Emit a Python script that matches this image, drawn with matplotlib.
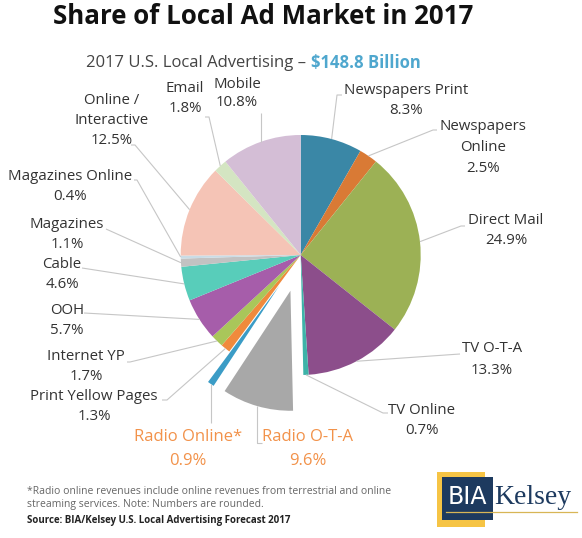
import numpy as np
import matplotlib
matplotlib.use("Agg")
import matplotlib.pyplot as plt
from matplotlib.patches import Rectangle

# ---------------- data ----------------
categories = ["Newspapers Print", "Newspapers Online", "Direct Mail", "TV O-T-A",
              "TV Online", "Radio O-T-A", "Radio Online*", "Print Yellow Pages",
              "Internet YP", "OOH", "Cable", "Magazines", "Magazines Online",
              "Online / Interactive", "Email", "Mobile"]
shares = [8.3, 2.5, 24.9, 13.3, 0.7, 9.6, 0.9, 1.3, 1.7, 5.7, 4.6, 1.1, 0.4, 12.5, 1.8, 10.8]
pct_labels = ["8.3%", "2.5%", "24.9%", "13.3%", "0.7%", "9.6%", "0.9%", "1.3%",
              "1.7%", "5.7%", "4.6%", "1.1%", "0.4%", "12.5%", "1.8%", "10.8%"]
name_lines = [["Newspapers Print"], ["Newspapers", "Online"], ["Direct Mail"], ["TV O-T-A"],
              ["TV Online"], ["Radio O-T-A"], ["Radio Online*"], ["Print Yellow Pages"],
              ["Internet YP"], ["OOH"], ["Cable"], ["Magazines"], ["Magazines Online"],
              ["Online /", "Interactive"], ["Email"], ["Mobile"]]
exploded = ["Radio O-T-A", "Radio Online*"]
highlight = ["Radio O-T-A", "Radio Online*"]

colors = ["#3A87A6", "#D97A35", "#9CB155", "#8C4E8B", "#3DB3A8", "#A8A8A8", "#3B9CC6",
          "#F08A3C", "#A9C65A", "#A65DAA", "#58CDBA", "#C2C2C2", "#C9DCE6", "#F5C4B6",
          "#D4E5C2", "#D4BED6"]

W, H = 582, 538
def Y(y):
    return H - y

fig = plt.figure(figsize=(5.82, 5.38), dpi=100)
ax = fig.add_axes([0, 0, 1, 1])

CX, CY, R = 300.7, 255, 120
explode = [0.31 * R if c in exploded else 0 for c in categories]
wedges, _ = ax.pie(shares, colors=colors, startangle=90, counterclock=False,
                   center=(CX, Y(CY)), radius=R, explode=explode,
                   wedgeprops=dict(linewidth=0))
ax.set_xlim(0, W)
ax.set_ylim(0, H)
ax.set_aspect("equal")
ax.axis("off")

FONT = "Open Sans"
TXT = "#333333"
ORANGE = "#F2924A"
LEAD = "#C6C6C6"

# label layout: (center x, first line y, line step)
layout = {
    "Newspapers Print": (406, 90, 21),
    "Newspapers Online": (483, 127, 20.5),
    "Direct Mail": (506, 220, 20),
    "TV O-T-A": (492, 349, 21),
    "TV Online": (422, 410, 20),
    "Radio O-T-A": (308, 437, 24),
    "Radio Online*": (188, 437, 24),
    "Print Yellow Pages": (94, 397, 20),
    "Internet YP": (86, 357, 20),
    "OOH": (67, 310, 20),
    "Cable": (62, 265, 20),
    "Magazines": (67, 225, 20),
    "Magazines Online": (70, 177, 20),
    "Online / Interactive": (112, 100, 20.5),
    "Email": (185, 89, 20),
    "Mobile": (237, 84, 19),
}
# leader path points after the wedge edge point (pixel coords)
leaders = {
    "Newspapers Print": [(337, 95), (342, 95)],
    "Newspapers Online": [(433, 130), (437, 130)],
    "Direct Mail": [(461, 226), (465, 226)],
    "TV O-T-A": [(460, 354)],
    "TV Online": [(383, 413), (388, 413)],
    "Radio O-T-A": [(None, 443), (262, 443)],
    "Radio Online*": [(None, 423)],
    "Print Yellow Pages": [(167, 400), (162, 400)],
    "Internet YP": [(130, 362), (127, 362)],
    "OOH": [(84, 313)],
    "Cable": [(82, 268)],
    "Magazines": [(106, 229)],
    "Magazines Online": [(137, 180), (134, 180)],
    "Online / Interactive": [(135, 145), (131, 145)],
    "Email": [(209, 117), (205, 117)],
    "Mobile": [(None, 113)],
}

for w, cat, names, pct in zip(wedges, categories, name_lines, pct_labels):
    th = np.deg2rad((w.theta1 + w.theta2) / 2)
    sx = w.center[0] + w.r * np.cos(th)
    sy = w.center[1] + w.r * np.sin(th)
    xs, ys = [sx], [sy]
    for px, py in leaders[cat]:
        xs.append(sx if px is None else px)
        ys.append(Y(py))
    ax.plot(xs, ys, color=LEAD, lw=0.8, solid_capstyle="butt", zorder=1)

    cx, y0, step = layout[cat]
    lines = names + [pct]
    hl = cat in highlight
    for i, t in enumerate(lines):
        ax.text(cx, Y(y0 + i * step), t, ha="center", va="center",
                fontsize=12 if hl else 10.8, family=FONT,
                color=ORANGE if hl else TXT)

# title & subtitle
ax.text(263, Y(17), "Share of Local Ad Market in 2017", ha="center", va="center",
        fontsize=18.6, fontweight="bold", family=FONT, color="#111111")
ax.text(306, Y(63), "2017 U.S. Local Advertising \u2013", ha="right", va="center",
        fontsize=12, family=FONT, color="#444444")
ax.text(311, Y(63), "$148.8 Billion", ha="left", va="center",
        fontsize=12, fontweight="bold", family=FONT, color="#4FA7CE")

# footnotes
ax.text(27, Y(492), "*Radio online revenues include online revenues from terrestrial and online",
        ha="left", va="center", fontsize=7.45, family=FONT, color="#666666")
ax.text(27, Y(505), "streaming services. Note: Numbers are rounded.",
        ha="left", va="center", fontsize=7.45, family=FONT, color="#666666")
ax.text(27, Y(521), "Source: BIA/Kelsey U.S. Local Advertising Forecast 2017",
        ha="left", va="center", fontsize=7.0, fontweight="bold", family=FONT, color="#222222")

# logo
ax.add_patch(Rectangle((437, Y(527)), 48, 55, facecolor="#F6C445", edgecolor="none"))
ax.add_patch(Rectangle((442, Y(520)), 51, 43, facecolor="#1D3A5F", edgecolor="none"))
ax.plot([446, 577], [Y(512), Y(512)], color="#D8B656", lw=0.9)
ax.text(467.5, Y(497), "BIA", ha="center", va="center", fontsize=17,
        family="DejaVu Sans", color="white")
ax.text(494, Y(497), "Kelsey", ha="left", va="center", fontsize=20,
        family="Liberation Serif", color="#1D3A5F")

fig.savefig("out.png", dpi=100)
